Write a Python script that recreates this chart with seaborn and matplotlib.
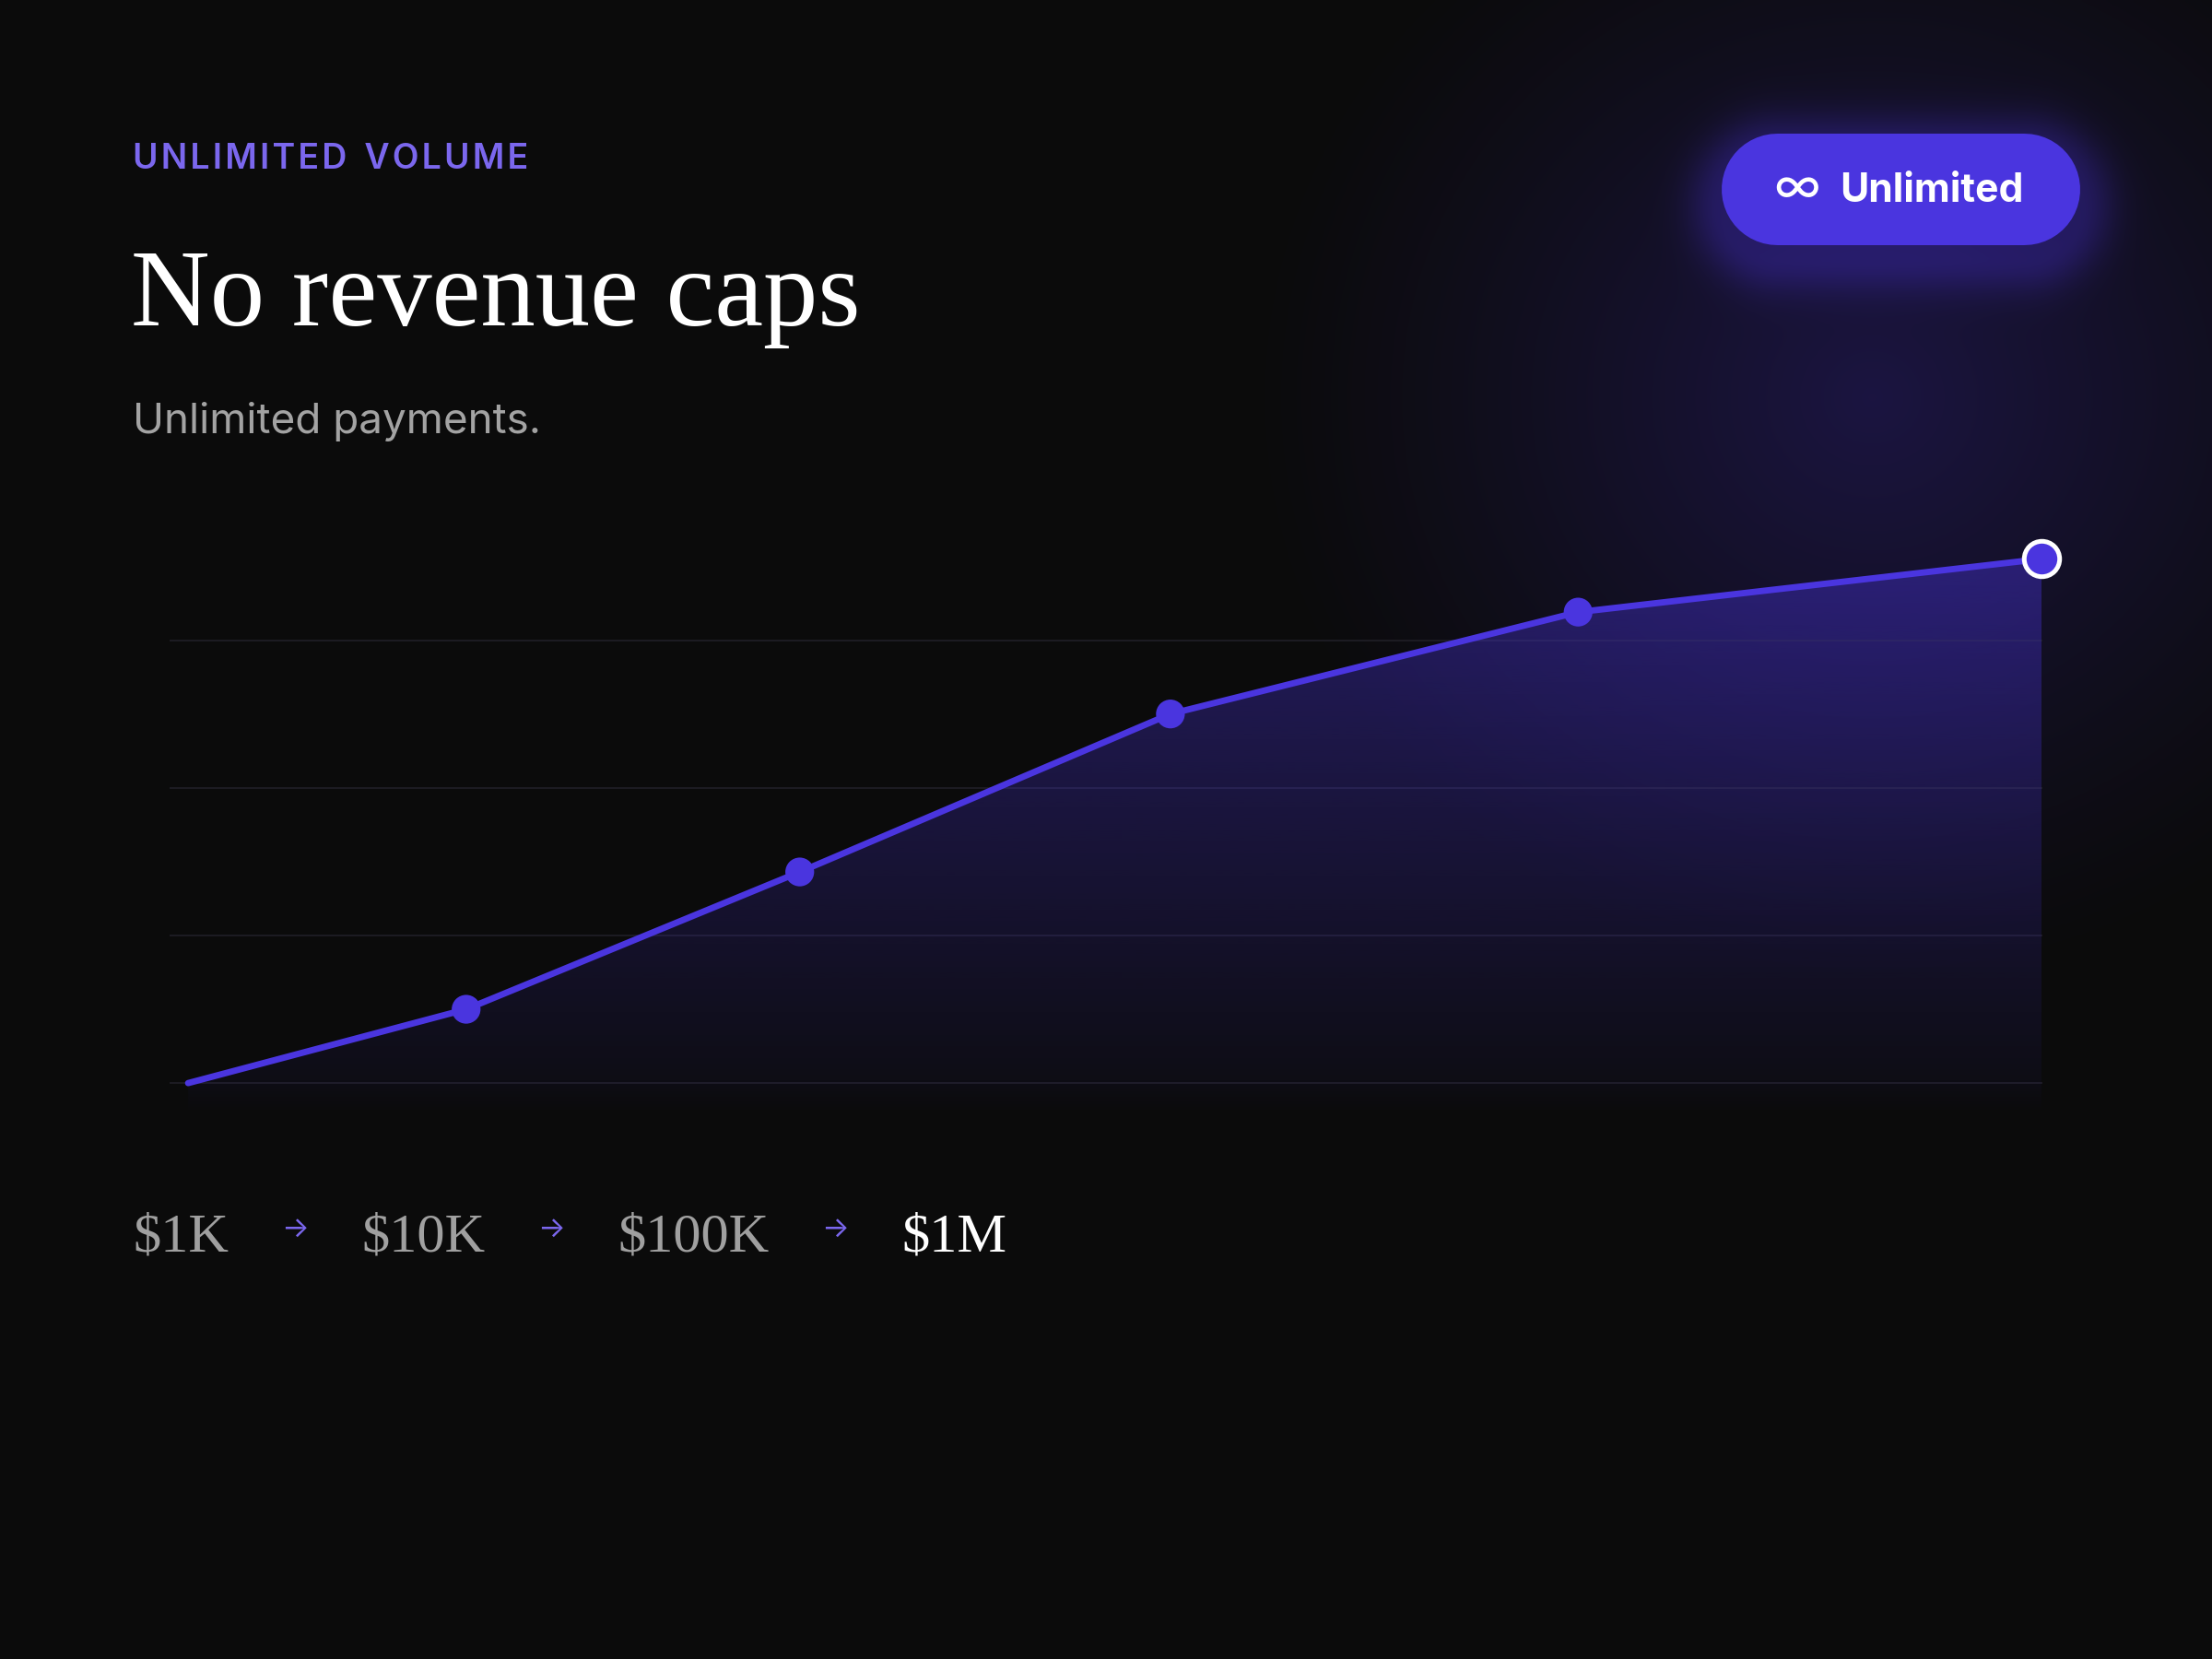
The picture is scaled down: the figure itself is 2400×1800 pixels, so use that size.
import numpy as np
import pandas as pd
import matplotlib.pyplot as plt
import seaborn as sns
from matplotlib.patches import Polygon

# values
volume_x = [0, 15, 33, 53, 75, 100]
volume_y = [0.0, 0.50, 1.43, 2.50, 3.19, 3.55]
grid_levels = [0, 1, 2, 3]
tiers = ['$1K', '$10K', '$100K', '$1M']
tier_colors = ['#a0a0a0', '#a0a0a0', '#a0a0a0', '#ffffff']

W, H = 2400, 1800
DPI = 150
BG = '#0b0b0b'
PURPLE = '#4a35df'
LAVENDER = '#7b67ee'
SERIF = ['Liberation Serif', 'DejaVu Serif']
SANS = ['Inter', 'DejaVu Sans']

sns.set_theme(style='dark')
plt.rcParams['font.family'] = SANS

fig = plt.figure(figsize=(W / DPI, H / DPI), dpi=DPI, facecolor=BG)

# full-figure axes in pixel units, for the background glow and the texts
bg = fig.add_axes([0, 0, 1, 1], zorder=0)
bg.set_xlim(0, W)
bg.set_ylim(H, 0)
bg.axis('off')

# badge capsule: centre line and radius in pixels
cap_x0, cap_x1, cap_y, cap_r = 1927.5, 2195.5, 204.5, 60.5

yy, xx = np.mgrid[0:H:3, 0:W:3].astype(float)
r = np.sqrt(((xx - 2030) / 680) ** 2 + ((yy - 430) / 640) ** 2)
glow = np.clip(1 - r, 0, 1) ** 1.15
# soft shadow around the badge, pushed a little downwards
dx = xx - np.clip(xx, cap_x0, cap_x1)
dy = yy - (cap_y + 14)
d = np.clip(np.sqrt(dx ** 2 + dy ** 2) - cap_r, 0, None)
shadow = np.exp(-(d / 38) ** 2)
base = np.array([11, 11, 11]) / 255
tint = np.array([42, 30, 115]) / 255
mix = np.clip(0.52 * glow + 0.55 * shadow, 0, 1)[..., None]
img = base + (tint - base) * mix
bg.imshow(img, extent=[0, W, H, 0], aspect='auto', interpolation='bilinear')

# chart area
ax = fig.add_axes([184 / W, 1 - 1220 / H, 2032 / W, 660 / H], zorder=1)
ax.patch.set_alpha(0)
ax.axis('off')

for g in grid_levels:
    ax.axhline(g, color='#1e1d24', lw=0.9, zorder=1)

# gradient under the curve
floor = -0.22
verts = list(zip(volume_x, volume_y)) + [(volume_x[-1], floor), (volume_x[0], floor)]
clip = Polygon(verts, closed=True, facecolor='none', edgecolor='none')
ax.add_patch(clip)
ys = np.linspace(floor, max(volume_y), 300)
alpha = np.where(ys >= 0, 0.05 + 0.36 * ys / max(volume_y), 0.05 * (1 + ys / -floor))
grad = np.zeros((len(ys), 1, 4))
grad[..., 0], grad[..., 1], grad[..., 2] = 74 / 255, 53 / 255, 223 / 255
grad[:, 0, 3] = np.clip(alpha, 0, 1)
im = ax.imshow(grad, extent=[volume_x[0], volume_x[-1], floor, max(volume_y)],
               origin='lower', aspect='auto', zorder=2)
im.set_clip_path(clip)

df = pd.DataFrame({'x': volume_x, 'y': volume_y})
sns.lineplot(data=df, x='x', y='y', color=PURPLE, lw=3.3, ax=ax, zorder=4,
             solid_capstyle='round')
sns.scatterplot(data=df.iloc[1:-1], x='x', y='y', s=225, color=PURPLE,
                edgecolor='none', ax=ax, zorder=5)
sns.scatterplot(data=df.iloc[[-1]], x='x', y='y', s=340, color=PURPLE,
                edgecolor='white', linewidth=2.4, ax=ax, zorder=6)
for c in ax.collections:
    c.set_clip_on(False)
ax.set_xlim(-1.0, 100.05)
ax.set_ylim(-0.28, 3.84)

# header texts
hs = '\u200a'
kicker = '  '.join(hs.join(w) for w in 'UNLIMITED VOLUME'.split())
bg.text(144, 183, kicker, color=LAVENDER, fontsize=18, fontweight='semibold', va='baseline')
bg.text(142, 353, 'No revenue caps', color='white', fontsize=57, family=SERIF, va='baseline')
bg.text(144, 470, 'Unlimited payments.', color='#a3a3a3', fontsize=22, va='baseline')

# badge: a thick line with round caps gives a true pill
bg.plot([cap_x0, cap_x1], [cap_y, cap_y], color=PURPLE, lw=2 * cap_r * 72 / DPI,
        solid_capstyle='round', zorder=3)
bg.text(1950, 206, '\u221e', color='white', fontsize=26, fontweight='normal',
        ha='center', va='center', family=SANS, zorder=4)
bg.text(1996, 219, 'Unlimited', color='white', fontsize=20.5, fontweight='bold',
        va='baseline', zorder=4)

# tier labels flowing left to right
fig.canvas.draw()
renderer = fig.canvas.get_renderer()
x = 144
for i, (label, col) in enumerate(zip(tiers, tier_colors)):
    t = bg.text(x, 1358, label, color=col, fontsize=29, family=SERIF, va='baseline')
    x += t.get_window_extent(renderer).width
    if i < len(tiers) - 1:
        bg.text(x + 72, 1334, '\u2192', color=LAVENDER, fontsize=15, ha='center',
                va='center', family=SANS)
        x += 144

fig.savefig('out.png', dpi=DPI, facecolor=BG)
